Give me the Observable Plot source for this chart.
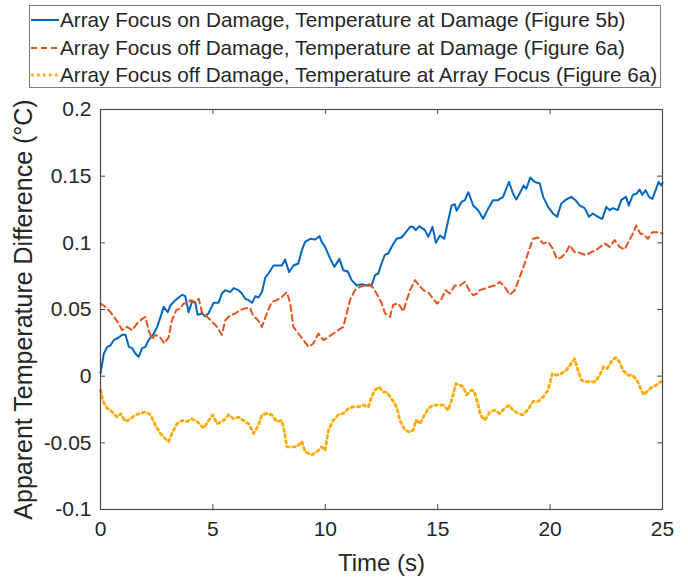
<!DOCTYPE html>
<html>
<head>
<meta charset="utf-8">
<script src="https://cdn.jsdelivr.net/npm/d3@7"></script>
<script src="https://cdn.jsdelivr.net/npm/@observablehq/plot@0.6"></script>
<style>
  html, body { margin: 0; padding: 0; background: #fff; }
  #chart { position: relative; width: 688px; height: 579px; font-family: "Liberation Sans", Arial, sans-serif; color: #262626; }
  #legend { position: absolute; left: 0; top: 0; width: 688px; height: 100px; z-index: 2; }
  #legend .box { position: absolute; left: 29px; top: 5px; width: 632px; height: 83px; border: 1px solid #7a7a7a; box-sizing: border-box; background: #fff; }
  #legend .row { position: absolute; left: 31px; height: 24px; display: flex; align-items: center; font-size: 20.7px; white-space: nowrap; }
  #legend svg { width: 28px; height: 10px; margin-right: 1px; }
  #chart > svg { position: absolute; left: 0; top: 0; }
</style>
</head>
<body>
<div id="chart">
  <div id="legend"><div class="box"></div></div>
</div>
<script>
// Series: time (s) and apparent temperature difference (°C)
const names = [
  "Array Focus on Damage, Temperature at Damage (Figure 5b)",
  "Array Focus off Damage, Temperature at Damage (Figure 6a)",
  "Array Focus off Damage, Temperature at Array Focus (Figure 6a)"
];
const colors = ["#0066c2", "#e4541c", "#ffaa00"];

const onDamageT = [0,0.15,0.3,0.44,0.59,0.81,0.96,1.11,1.26,1.41,1.55,1.7,1.85,2,2.14,2.37,2.52,2.66,2.81,2.99,3.11,3.33,3.63,3.77,3.92,4.07,4.22,4.32,4.51,4.66,4.8,5.03,5.25,5.4,5.55,5.77,5.92,6.14,6.29,6.44,6.59,6.74,6.89,7.03,7.18,7.33,7.47,7.7,7.92,8.07,8.21,8.39,8.58,8.8,8.96,9.1,9.33,9.55,9.74,9.84,9.99,10.18,10.4,10.63,10.8,11,11.17,11.4,11.62,11.84,12.06,12.21,12.36,12.5,12.65,12.8,12.95,13.17,13.39,13.54,13.77,13.91,14.02,14.18,14.43,14.58,14.77,14.92,15.1,15.29,15.47,15.62,15.76,15.84,16.06,16.21,16.36,16.45,16.58,16.8,17.02,17.24,17.46,17.68,17.91,18.06,18.17,18.35,18.5,18.72,18.82,18.94,19.12,19.31,19.54,19.69,19.91,20.13,20.31,20.5,20.72,20.94,21.13,21.31,21.54,21.73,21.9,22.13,22.32,22.5,22.64,22.79,23.01,23.16,23.38,23.5,23.68,23.86,23.98,24.1,24.25,24.4,24.55,24.72,24.83,24.94,25];
const onDamageV = [0.002,0.017,0.022,0.023,0.027,0.029,0.031,0.031,0.022,0.021,0.017,0.0145,0.021,0.022,0.027,0.032,0.037,0.044,0.052,0.048,0.053,0.057,0.061,0.06,0.048,0.056,0.055,0.046,0.047,0.045,0.047,0.055,0.055,0.062,0.0645,0.063,0.066,0.0645,0.062,0.058,0.057,0.055,0.06,0.059,0.063,0.074,0.077,0.083,0.083,0.083,0.0875,0.078,0.083,0.0845,0.0945,0.1007,0.103,0.1025,0.105,0.1007,0.097,0.0895,0.082,0.088,0.0795,0.0785,0.072,0.068,0.069,0.068,0.068,0.0757,0.077,0.0845,0.091,0.092,0.097,0.103,0.104,0.107,0.112,0.112,0.1095,0.1125,0.1095,0.1045,0.112,0.1,0.1055,0.103,0.117,0.128,0.129,0.124,0.1307,0.132,0.138,0.134,0.128,0.1245,0.118,0.1255,0.132,0.132,0.1345,0.141,0.1457,0.137,0.1325,0.1395,0.143,0.1405,0.149,0.1457,0.1445,0.1345,0.127,0.122,0.1195,0.1295,0.1325,0.1345,0.132,0.128,0.126,0.1195,0.122,0.1195,0.118,0.127,0.1245,0.126,0.1245,0.132,0.1345,0.128,0.136,0.137,0.14,0.136,0.1395,0.1345,0.133,0.1407,0.1457,0.143,0.145];

const offDamageT = [0,0.22,0.44,0.59,0.81,0.96,1.18,1.41,1.63,1.85,2,2.14,2.29,2.44,2.66,2.84,3.03,3.18,3.37,3.55,3.7,3.87,4,4.22,4.37,4.51,4.74,4.96,5.18,5.4,5.55,5.77,6,6.2,6.44,6.66,6.81,6.96,7.18,7.4,7.62,7.84,8.07,8.29,8.44,8.58,8.8,9.03,9.25,9.47,9.69,9.92,10.14,10.36,10.58,10.8,10.95,11.1,11.32,11.55,11.77,11.96,12.14,12.36,12.51,12.66,12.88,13.02,13.25,13.47,13.62,13.77,13.99,14.18,14.36,14.58,14.8,14.98,15.17,15.35,15.54,15.76,15.99,16.21,16.4,16.58,16.75,16.87,17.1,17.32,17.54,17.76,17.98,18.2,18.43,18.65,18.87,19.06,19.24,19.46,19.69,19.91,20.1,20.3,20.5,20.72,20.87,21.09,21.31,21.58,21.83,22.05,22.23,22.43,22.65,22.87,23.09,23.31,23.53,23.68,23.83,24.01,24.2,24.35,24.55,24.72,24.9,25];
const offDamageV = [0.0545,0.052,0.048,0.0445,0.0395,0.0345,0.037,0.0345,0.0395,0.043,0.0445,0.0345,0.028,0.031,0.029,0.0245,0.029,0.042,0.0495,0.051,0.0545,0.0545,0.057,0.0557,0.058,0.048,0.0445,0.041,0.037,0.031,0.042,0.0455,0.047,0.0495,0.051,0.051,0.0445,0.043,0.037,0.047,0.0557,0.057,0.0595,0.063,0.0545,0.037,0.032,0.027,0.022,0.0245,0.032,0.027,0.0295,0.032,0.0345,0.037,0.047,0.057,0.0645,0.067,0.068,0.069,0.066,0.0595,0.0545,0.047,0.0445,0.0535,0.0545,0.0485,0.057,0.0645,0.072,0.068,0.0645,0.063,0.058,0.0545,0.058,0.0645,0.062,0.068,0.068,0.0707,0.0645,0.0607,0.062,0.0645,0.0657,0.067,0.068,0.0707,0.067,0.061,0.0645,0.0745,0.0845,0.0945,0.103,0.104,0.0995,0.1007,0.096,0.088,0.089,0.093,0.0982,0.093,0.0925,0.0907,0.093,0.0945,0.097,0.0995,0.097,0.102,0.097,0.095,0.102,0.107,0.113,0.107,0.1057,0.103,0.108,0.108,0.1075,0.107];

const atFocusT = [0,0.12,0.3,0.52,0.74,0.89,1.11,1.33,1.55,1.78,2,2.22,2.44,2.66,2.89,3.03,3.18,3.4,3.63,3.85,4.07,4.29,4.59,4.81,5,5.18,5.48,5.7,5.92,6.14,6.36,6.59,6.81,7.03,7.18,7.4,7.62,7.84,8.07,8.17,8.29,8.51,8.73,8.96,9.1,9.4,9.62,9.84,9.99,10.14,10.36,10.58,10.8,11.03,11.25,11.47,11.69,11.92,12.06,12.21,12.4,12.58,12.75,12.95,13.17,13.32,13.54,13.77,13.91,14.03,14.21,14.36,14.58,14.8,15.02,15.25,15.47,15.62,15.81,15.99,16.14,16.28,16.5,16.62,16.76,16.9,17.1,17.32,17.54,17.76,17.98,18.17,18.35,18.57,18.79,19,19.24,19.46,19.69,19.91,20.1,20.28,20.5,20.72,20.94,21.09,21.24,21.39,21.61,21.83,22.02,22.2,22.38,22.53,22.72,22.91,23.09,23.24,23.46,23.68,23.9,24.05,24.2,24.35,24.55,24.72,24.9,25];
const atFocusV = [-0.0105,-0.019,-0.024,-0.0267,-0.0307,-0.0282,-0.034,-0.032,-0.029,-0.028,-0.0267,-0.029,-0.0367,-0.043,-0.047,-0.049,-0.043,-0.0357,-0.0332,-0.034,-0.032,-0.034,-0.039,-0.0332,-0.029,-0.0357,-0.0332,-0.029,-0.032,-0.0307,-0.0332,-0.0357,-0.043,-0.0367,-0.029,-0.028,-0.029,-0.034,-0.0332,-0.0407,-0.053,-0.053,-0.053,-0.049,-0.0567,-0.059,-0.0567,-0.053,-0.0557,-0.0405,-0.033,-0.029,-0.028,-0.0242,-0.023,-0.023,-0.0217,-0.023,-0.0155,-0.0105,-0.008,-0.012,-0.012,-0.017,-0.023,-0.033,-0.0405,-0.042,-0.0405,-0.033,-0.0357,-0.0307,-0.0242,-0.0217,-0.0217,-0.0217,-0.0255,-0.018,-0.0055,-0.0067,-0.008,-0.014,-0.0105,-0.011,-0.019,-0.029,-0.033,-0.0267,-0.0255,-0.028,-0.024,-0.0217,-0.0255,-0.028,-0.029,-0.0255,-0.019,-0.019,-0.0155,-0.0105,0.002,0.0007,0.002,0.0045,0.0095,0.013,0.0045,-0.003,-0.0042,-0.0042,-0.0042,0.0007,0.007,0.0057,0.0107,0.014,0.0107,0.0045,0.0007,0.0007,-0.0042,-0.0105,-0.014,-0.0105,-0.008,-0.0067,-0.0042,-0.004];

const xTicks = [0, 5, 10, 15, 20, 25];
const yTicks = [-0.1, -0.05, 0, 0.05, 0.1, 0.15, 0.2];
const xLabel = "Time (s)";
const yLabel = "Apparent Temperature Difference (°C)";

const toRows = (T, V) => T.map((t, i) => ({t, v: V[i]}));
const onDamage = toRows(onDamageT, onDamageV);
const offDamage = toRows(offDamageT, offDamageV);
const atFocus = toRows(atFocusT, atFocusV);

const dashes = [null, "6,4", "2.5,3.5"];
const widths = [2, 2, 2.8];

// Legend box at the top
const legend = document.getElementById("legend");
names.forEach((name, i) => {
  const row = document.createElement("div");
  row.className = "row";
  row.style.top = (8 + i * 27.5) + "px";
  row.innerHTML = `<svg viewBox="0 0 28 10"><line x1="0" x2="28" y1="5" y2="5" stroke="${colors[i]}" stroke-width="${widths[i]}" ${dashes[i] ? `stroke-dasharray="${dashes[i]}"` : ""}/></svg><span>${name}</span>`;
  legend.appendChild(row);
});

const axisColor = "#4a4a4a";
const tickLenY = 0.00375; // inward tick length in y units
const tickLenX = 0.222;   // inward tick length in x units

const plot = Plot.plot({
  width: 688,
  height: 579,
  marginLeft: 100,
  marginRight: 26,
  marginTop: 109,
  marginBottom: 70,
  style: {fontFamily: "'Liberation Sans', Arial, sans-serif", fontSize: "21px", color: "#262626", background: "transparent", overflow: "visible"},
  x: {domain: [0, 25]},
  y: {domain: [-0.1, 0.2]},
  marks: [
    Plot.axisX(xTicks, {tickSize: 0, tickPadding: 12, fontSize: 21, tickFormat: d => String(d), label: null}),
    Plot.axisY(yTicks, {tickSize: 0, tickPadding: 9, fontSize: 21, tickFormat: d => String(+d.toFixed(2)), label: null}),
    Plot.line(onDamage, {x: "t", y: "v", stroke: colors[0], strokeWidth: widths[0]}),
    Plot.line(offDamage, {x: "t", y: "v", stroke: colors[1], strokeWidth: widths[1], strokeDasharray: dashes[1]}),
    Plot.line(atFocus, {x: "t", y: "v", stroke: colors[2], strokeWidth: widths[2], strokeDasharray: dashes[2]}),
    // inward ticks on all four sides
    Plot.ruleX(xTicks, {y1: -0.1, y2: -0.1 + tickLenY, stroke: axisColor}),
    Plot.ruleX(xTicks, {y1: 0.2, y2: 0.2 - tickLenY, stroke: axisColor}),
    Plot.ruleY(yTicks, {x1: 0, x2: tickLenX, stroke: axisColor}),
    Plot.ruleY(yTicks, {x1: 25, x2: 25 - tickLenX, stroke: axisColor}),
    Plot.frame({stroke: axisColor, strokeWidth: 1.2}),
    Plot.text([xLabel], {frameAnchor: "bottom", dy: 54, lineAnchor: "middle", textAnchor: "middle", fontSize: 24, fill: "#262626"}),
    Plot.text([yLabel], {frameAnchor: "left", dx: -77, rotate: -90, lineAnchor: "middle", textAnchor: "middle", fontSize: 25, fill: "#262626"})
  ]
});
document.getElementById("chart").appendChild(plot);
</script>
</body>
</html>
